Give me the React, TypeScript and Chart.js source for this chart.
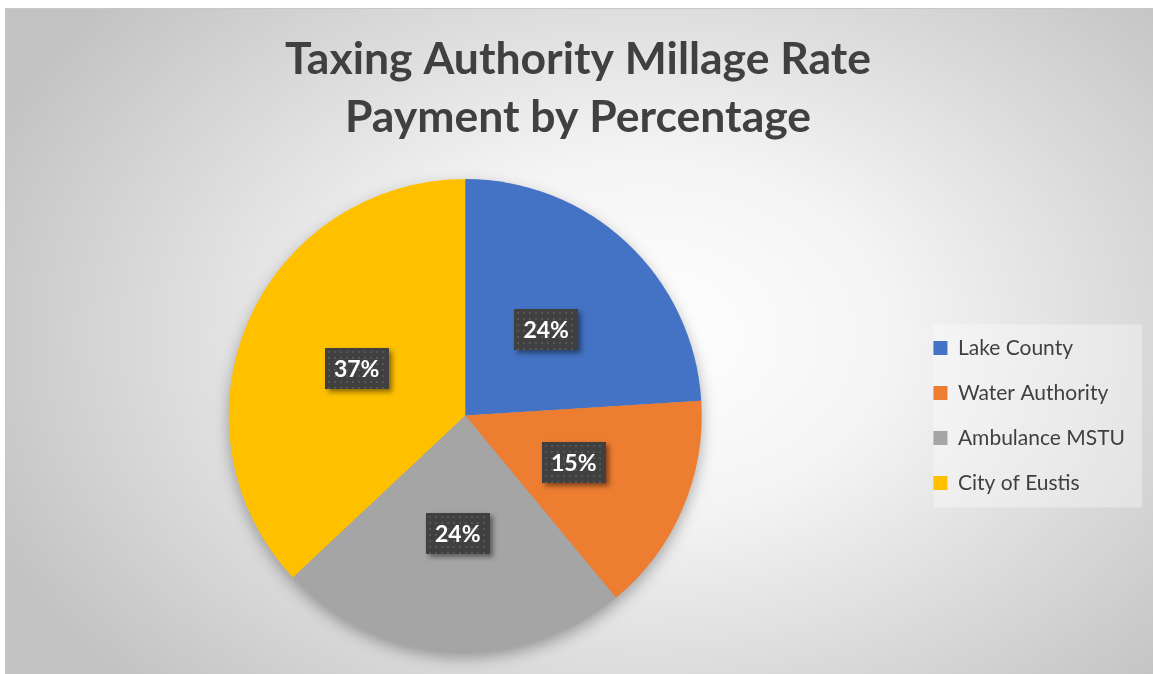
import React, { useEffect, useRef } from 'react';
import { Chart, registerables } from 'chart.js';

Chart.register(...registerables);

const categories = ['Lake County', 'Water Authority', 'Ambulance MSTU', 'City of Eustis'];
const shares = [24, 15, 24, 37];
const sliceColors = ['#4472C4', '#ED7D31', '#A5A5A5', '#FFC000'];
const titleLines = ['Taxing Authority Millage Rate', 'Payment by Percentage'];

const FONT = 'Lato, "Open Sans", sans-serif';

const pieShadow = {
  id: 'pieShadow',
  beforeDatasetsDraw(chart: any) {
    const arcs = chart.getDatasetMeta(0).data;
    if (!arcs.length) return;
    const { x, y, outerRadius } = arcs[0];
    const ctx = chart.ctx;
    ctx.save();
    ctx.shadowColor = 'rgba(0,0,0,0.35)';
    ctx.shadowBlur = 16;
    ctx.shadowOffsetY = 6;
    ctx.beginPath();
    ctx.arc(x, y, outerRadius - 1, 0, Math.PI * 2);
    ctx.fillStyle = '#a0a0a0';
    ctx.fill();
    ctx.restore();
  },
};

const legendBg = {
  id: 'legendBg',
  beforeDraw(chart: any) {
    const lg = chart.legend;
    if (!lg || !lg.legendHitBoxes || !lg.legendHitBoxes.length) return;
    const hb = lg.legendHitBoxes;
    let right = 0;
    hb.forEach((h: any) => { right = Math.max(right, h.left + h.width); });
    const left = hb[0].left;
    const top = hb[0].top - 13;
    const last = hb[hb.length - 1];
    const bottom = last.top + last.height + 14;
    const ctx = chart.ctx;
    ctx.save();
    ctx.fillStyle = 'rgba(255,255,255,0.35)';
    ctx.fillRect(left, top, right + 17 - left, bottom - top);
    ctx.restore();
  },
};

const dataLabels = {
  id: 'dataLabelsBox',
  afterDatasetsDraw(chart: any) {
    const ctx = chart.ctx;
    const ds = chart.data.datasets[0].data as number[];
    const total = ds.reduce((a, b) => a + b, 0);
    chart.getDatasetMeta(0).data.forEach((arc: any, i: number) => {
      const p = arc.getCenterPoint();
      const text = Math.round((ds[i] / total) * 100) + '%';
      const w = 64;
      const h = 41;
      const bx = Math.round(p.x - w / 2);
      const by = Math.round(p.y - h / 2);
      ctx.save();
      ctx.shadowColor = 'rgba(0,0,0,0.45)';
      ctx.shadowBlur = 5;
      ctx.shadowOffsetX = 3;
      ctx.shadowOffsetY = 3;
      ctx.fillStyle = '#404040';
      ctx.fillRect(bx, by, w, h);
      ctx.restore();
      ctx.save();
      ctx.fillStyle = 'rgba(255,255,255,0.11)';
      for (let yy = by + 3; yy < by + h - 1; yy += 6) {
        for (let xx = bx + 3; xx < bx + w - 1; xx += 6) {
          ctx.fillRect(xx, yy, 2, 2);
        }
      }
      ctx.fillStyle = '#ffffff';
      ctx.font = `bold 23px ${FONT}`;
      ctx.textAlign = 'center';
      ctx.textBaseline = 'middle';
      ctx.fillText(text, p.x, p.y + 1);
      ctx.restore();
    });
  },
};

export default function App() {
  const ref = useRef<HTMLCanvasElement | null>(null);

  useEffect(() => {
    if (!ref.current) return;
    const chart = new Chart(ref.current, {
      type: 'pie',
      data: {
        labels: categories,
        datasets: [
          {
            data: shares,
            backgroundColor: sliceColors,
            borderWidth: 0,
          },
        ],
      },
      options: {
        responsive: false,
        animation: false,
        rotation: 0,
        layout: { padding: { top: 0, bottom: 22, left: 15, right: 18 } },
        plugins: {
          tooltip: { enabled: false },
          title: {
            display: true,
            text: titleLines,
            color: '#404040',
            font: { family: FONT, size: 44.5, weight: 'bold', lineHeight: 1.303 },
            padding: { top: 22, bottom: 32 },
          },
          legend: {
            position: 'right',
            align: 'center',
            fullSize: false,
            labels: {
              color: '#404040',
              font: { family: FONT, size: 21 },
              boxWidth: 14,
              boxHeight: 14,
              padding: 24,
            },
          },
        },
      },
      plugins: [legendBg, pieShadow, dataLabels],
    });
    return () => chart.destroy();
  }, []);

  return (
    <div
      style={{
        position: 'fixed',
        left: 0,
        top: 0,
        width: 1153,
        height: 674,
        overflow: 'hidden',
        background: '#ffffff',
      }}
    >
      <div
        style={{
          position: 'absolute',
          left: 5,
          top: 8,
          width: 1160,
          height: 680,
          borderLeft: '1px solid #c8c8c8',
          borderTop: '1px solid #c8c8c8',
          background:
            'radial-gradient(ellipse 62% 75% at 55% 48%, #ffffff 0%, #f4f4f4 35%, #c2c2c2 100%)',
        }}
      >
        <canvas ref={ref} width={1147} height={665} style={{ display: 'block', width: 1147, height: 665 }} />
      </div>
    </div>
  );
}
